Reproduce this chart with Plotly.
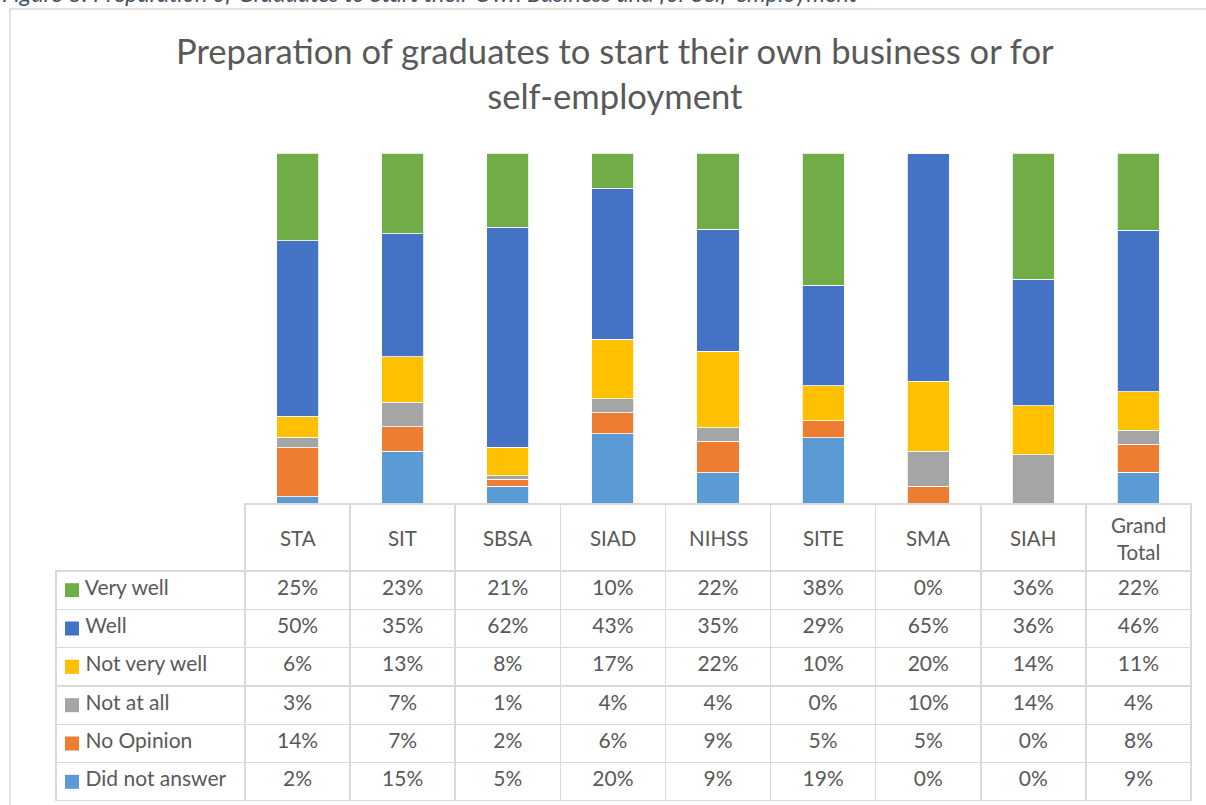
import plotly.graph_objects as go

# ---------------- data ----------------
categories = ["STA", "SIT", "SBSA", "SIAD", "NIHSS", "SITE", "SMA", "SIAH", "Grand Total"]
category_labels = ["STA", "SIT", "SBSA", "SIAD", "NIHSS", "SITE", "SMA", "SIAH", "Grand<br>Total"]

series_names = ["Very well", "Well", "Not very well", "Not at all", "No Opinion", "Did not answer"]
very_well = [25, 23, 21, 10, 22, 38, 0, 36, 22]
well = [50, 35, 62, 43, 35, 29, 65, 36, 46]
not_very_well = [6, 13, 8, 17, 22, 10, 20, 14, 11]
not_at_all = [3, 7, 1, 4, 4, 0, 10, 14, 4]
no_opinion = [14, 7, 2, 6, 9, 5, 5, 0, 8]
did_not_answer = [2, 15, 5, 20, 9, 19, 0, 0, 9]
series_values = [very_well, well, not_very_well, not_at_all, no_opinion, did_not_answer]
series_colors = ["#70AD47", "#4472C4", "#FFC000", "#A5A5A5", "#ED7D31", "#5B9BD5"]

title_text = "Preparation of graduates to start their own business or for<br>self-employment"
caption_text = "Figure 8: Preparation of Graduates to Start their Own Business and for Self-employment"

# ---------------- layout constants ----------------
W, H = 1206, 805
FONT = "Lato"
TXT = "#595959"
GRID = "#D9D9D9"
CLEAR = "rgba(0,0,0,0)"


def px_x(v):
    return v / W


def px_y(v):
    return (H - v) / H


fig = go.Figure()

# stacked bars: bottom series first
for name, vals, col in reversed(list(zip(series_names, series_values, series_colors))):
    fig.add_trace(go.Bar(
        x=categories, y=vals, name=name,
        marker=dict(color=col, line=dict(color="rgba(255,255,255,0.8)", width=1)),
        showlegend=False, hoverinfo="skip",
    ))

# legend key squares inside the table's first column
fig.add_trace(go.Scatter(
    x=[0] * len(series_names), y=series_names,
    xaxis="x2", yaxis="y2",
    mode="markers",
    marker=dict(symbol="square", size=14, color=series_colors, line=dict(width=0)),
    showlegend=False, hoverinfo="skip", cliponaxis=False,
))

# data table
pad = "\u00a0" * 4
table_cols = [[pad + n for n in series_names]] + [
    [f"{vals[j]}%" for vals in series_values] for j in range(len(categories))
]

fig.add_trace(go.Table(
    domain=dict(x=[px_x(56), px_x(1191)], y=[px_y(801), px_y(504)]),
    columnwidth=[189] + [105.1] * len(categories),
    header=dict(
        values=[""] * (len(categories) + 1),
        height=67,
        fill=dict(color=CLEAR),
        line=dict(color=[CLEAR] + [GRID] * len(categories), width=1.5),
    ),
    cells=dict(
        values=table_cols,
        height=38.33,
        align=["left"] + ["center"] * len(categories),
        fill=dict(color=CLEAR),
        line=dict(color=GRID, width=1.5),
        font=dict(family=FONT, size=21, color=TXT),
    ),
))

annotations = [
    dict(x=cat, y=px_y(538), xref="x", yref="paper", text=lab, showarrow=False,
         yanchor="middle", font=dict(family=FONT, size=20.5, color=TXT))
    for cat, lab in zip(categories, category_labels)
]
annotations.append(dict(
    x=px_x(615), y=px_y(73), xref="paper", yref="paper", text=title_text,
    showarrow=False, xanchor="center", yanchor="middle",
    font=dict(family=FONT, size=34.6, color=TXT),
))
annotations.append(dict(
    x=0, y=px_y(-6.5), xref="paper", yref="paper", text=f"<i>{caption_text}</i>",
    showarrow=False, xanchor="left", yanchor="middle",
    font=dict(family=FONT, size=23.6, color="#44546A"),
))

fig.update_layout(
    width=W, height=H,
    margin=dict(l=0, r=0, t=0, b=0),
    paper_bgcolor="white", plot_bgcolor="rgba(0,0,0,0)",
    barmode="stack", barnorm="percent", bargap=0.6,
    xaxis=dict(domain=[px_x(245), px_x(1191)], showticklabels=False, showgrid=False,
               zeroline=False, showline=False, ticks=""),
    yaxis=dict(domain=[px_y(504), px_y(153)], range=[0, 100], visible=False),
    xaxis2=dict(domain=[px_x(65), px_x(245)], range=[-0.5, 12.35], visible=False),
    yaxis2=dict(domain=[px_y(801), px_y(571)], type="category",
                categoryorder="array", categoryarray=series_names,
                range=[len(series_names) - 0.5, -0.5], visible=False),
    annotations=annotations,
    shapes=[dict(type="rect", xref="paper", yref="paper",
                 x0=px_x(10), x1=1.05, y0=-0.05, y1=px_y(9),
                 line=dict(color=GRID, width=1.5), fillcolor=CLEAR)],
)

fig.write_html("out.html", post_script="document.body.style.margin='0';",
               config={"displayModeBar": False})
